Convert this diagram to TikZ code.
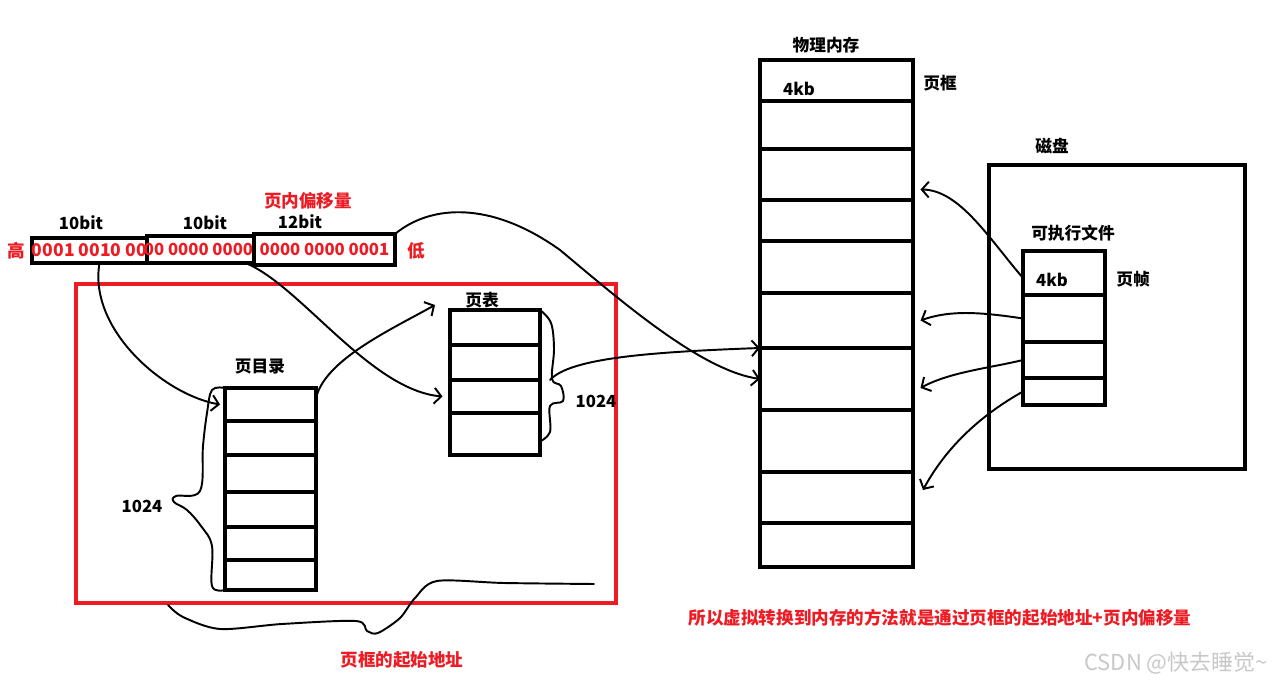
\documentclass[tikz,border=0pt]{standalone}
\usepackage{fontspec}
\setmainfont{Noto Sans CJK SC}
\usetikzlibrary{arrows.meta}
\definecolor{paintred}{RGB}{237,28,36}
\definecolor{markgray}{RGB}{200,200,200}
\begin{document}
\begin{tikzpicture}[x=0.02cm, y=-0.02cm,
    lab/.style={font=\fontsize{9.5}{11}\selectfont\bfseries, inner sep=1pt},
    redlab/.style={lab, text=paintred},
    cell/.style={draw, line width=2pt, inner sep=0pt, outer sep=0pt},
    hand/.style={line width=1.1pt, line cap=round},
    barb/.style={hand, -{Straight Barb[length=4pt, width=9pt]}}]
  \useasboundingbox (0,0) rectangle (1281,685);
  % virtual address
  \node[cell, line width=1.8pt, minimum width=2.30cm, minimum height=0.50cm] (a1) at (89.5,250.5) {};
  \node[cell, line width=1.8pt, minimum width=2.14cm, minimum height=0.54cm] (a2) at (200.5,249.5) {};
  \node[cell, line width=1.8pt, minimum width=2.82cm, minimum height=0.62cm] (a3) at (324.5,249.5) {};
  \node[redlab, font=\fontsize{10}{12}\selectfont\bfseries] (d1) at (a1) {0001 0010 00};
  \node[redlab] (d2) at ([xshift=-0.04cm]a2) {00 0000 0000};
  \node[redlab] (d3) at (a3) {0000 0000 0001};
  \node[redlab, font=\fontsize{10}{12}\selectfont\bfseries] (hi) at (16,251) {高};
  \node[redlab, font=\fontsize{10}{12}\selectfont\bfseries] (lo) at (416,251) {低};
  \node[lab] (b1) at (81,223) {10bit};
  \node[lab] (b2) at (205,223) {10bit};
  \node[lab] (b3) at (300,222) {12bit};
  \node[redlab, font=\fontsize{10}{12}\selectfont\bfseries] (off) at (308,201) {页内偏移量};
  % page directory and page table
  \draw[paintred, line width=2.1pt] (76,284) rectangle (616,603);
  \foreach \t/\b [count=\i] in {388/421,421/455,455/492,492/527,527/560,560/590}
    \node[cell, minimum width=1.82cm, minimum height={(\b-\t)*0.02cm}] (pd\i) at (270.5,{(\t+\b)/2}) {};
  \foreach \t/\b [count=\i] in {310/345,345/380,380/413,413/455}
    \node[cell, minimum width=1.80cm, minimum height={(\b-\t)*0.02cm}] (pt\i) at (495,{(\t+\b)/2}) {};
  \node[lab] (pdlab) at (260,367) {页目录};
  \node[lab] (ptlab) at (482,300) {页表};
  \node[lab] (pdnum) at (142,506) {1024};
  \node[lab] (ptnum) at (596,401) {1024};
  % physical memory
  \foreach \t/\b [count=\i] in {60/101,101/149,149/200,200/241,241/293,293/348,348/410,410/472,472/523,523/567}
    \node[cell, minimum width=3.06cm, minimum height={(\b-\t)*0.02cm}] (m\i) at (836.5,{(\t+\b)/2}) {};
  \node[lab] (memlab) at (826,45) {物理内存};
  \node[lab] (mkb) at (799,89) {4kb};
  \node[lab] (frlab) at (940,83) {页框};
  % disk
  \node[cell, minimum width=5.12cm, minimum height=6.08cm] (disk) at (1117,317) {};
  \node[lab] (disklab) at (1052,146) {磁盘};
  \foreach \t/\b [count=\i] in {251/295,295/342,342/378,378/405}
    \node[cell, minimum width=1.64cm, minimum height={(\b-\t)*0.02cm}] (f\i) at (1064,{(\t+\b)/2}) {};
  \node[lab] (exelab) at (1073,233) {可执行文件};
  \node[lab] (fkb) at (1052,280) {4kb};
  \node[lab] (pglab) at (1133,279) {页帧};
  % hand drawn links
  \draw[barb] ([xshift=0.2cm]a1.south) .. controls (88,330) and (165,395) .. ([xshift=-0.1cm]pd1.west);
  \draw[barb] ([yshift=-0.2cm]pd1.north east) .. controls (325,360) and (390,330) .. ([shift={(-0.3cm,0.1cm)}]pt1.north west);
  \draw[barb] ([xshift=0.9cm]a2.south) .. controls (300,285) and (370,390) .. ([xshift=-0.15cm]pt3.west);
  \draw[barb] ([xshift=0.2cm]pt3.north east) .. controls (570,358) and (650,352) .. (m7.north west);
  \draw[barb] (a3.north east) .. controls (430,205) and (490,200) .. (560,250)
    .. controls (620,300) and (700,370) .. (m7.west);
  \draw[hand] plot[smooth, tension=0.6] coordinates {(pd1.north west) (212,390) (207,413) (203,446) (200,491) (176,496) (174,502) (187,510) (201,526) (212,546) (212,586) (pd6.south west)};
  \draw[hand] plot[smooth, tension=0.6] coordinates {(pt1.north east) (551,323) (554,349) (552,379) (561,386) (563,401) (550,406) (550,432) (539,442)};
  \draw[hand] plot[smooth, tension=0.5] coordinates {(168,605) (183,617) (220,629) (282,624) (356,621) (367,631) (378,633) (400,618) (415,598) (437,581) (504,583) (594,584)};
  \draw[barb] ([yshift=-0.1cm]f1.west) .. controls (990,240) and (960,190) .. ([shift={(0.15cm,-0.3cm)}]m3.east);
  \draw[barb] (f2.west) .. controls (980,312) and (950,310) .. ([xshift=0.15cm]m6.east);
  \draw[barb] (f3.west) .. controls (990,368) and (950,372) .. ([shift={(0.15cm,-0.18cm)}]m7.east);
  \draw[barb] (f4.west) .. controls (990,410) and (950,440) .. ([shift={(0.2cm,0.15cm)}]m9.east);
  % notes
  \node[redlab, font=\fontsize{10}{12}\selectfont\bfseries] (sum) at (940,618) {所以虚拟转换到内存的方法就是通过页框的起始地址+页内偏移量};
  \node[redlab, font=\fontsize{10}{12}\selectfont\bfseries] (base) at (402,660) {页框的起始地址};
  \node[font=\fontsize{12.5}{14}\selectfont, text=markgray, inner sep=1pt] (mark) at (1176,663) {CSDN @快去睡觉\textasciitilde};
\end{tikzpicture}
\end{document}
